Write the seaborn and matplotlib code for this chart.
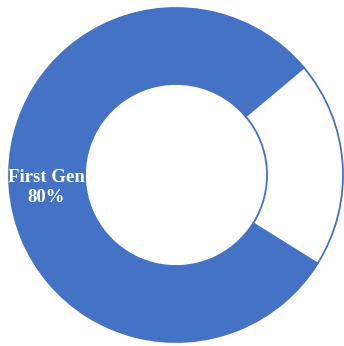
import numpy as np
import matplotlib
matplotlib.use("Agg")
import matplotlib.pyplot as plt
import seaborn as sns

# Share of students by generation status
categories = ["First Gen", "Continuing Gen"]
shares = [80, 20]
shown_labels = ["First Gen", ""]

sns.set_theme(style="white")
plt.rcParams["font.family"] = ["Liberation Serif", "DejaVu Serif"]

blue = "#4472C4"
fills = [blue, "white"]

fig = plt.figure(figsize=(3.44, 3.46), dpi=100)
ax = fig.add_axes([0, 0, 1, 1])

wedges, _ = ax.pie(
    shares,
    colors=fills,
    startangle=40,
    counterclock=True,
    radius=1.0,
    wedgeprops=dict(width=0.455, edgecolor=blue, linewidth=1.3),
)

# Label the ring segment at its middle angle
for w, name, val in zip(wedges, shown_labels, shares):
    if not name:
        continue
    mid = np.deg2rad((w.theta1 + w.theta2) / 2)
    r = 0.78
    ax.text(r * np.cos(mid), r * np.sin(mid) - 0.02, f"{name}\n{val}%",
            ha="center", va="center", color="white", fontsize=13.5,
            fontweight="bold", linespacing=1.2)

ax.set_aspect("auto")
ax.set_xlim(-176 / 167, 168 / 167)
ax.set_ylim(-171 / 167, 175 / 167)
ax.axis("off")

fig.savefig("out.png", dpi=100, facecolor="white")
